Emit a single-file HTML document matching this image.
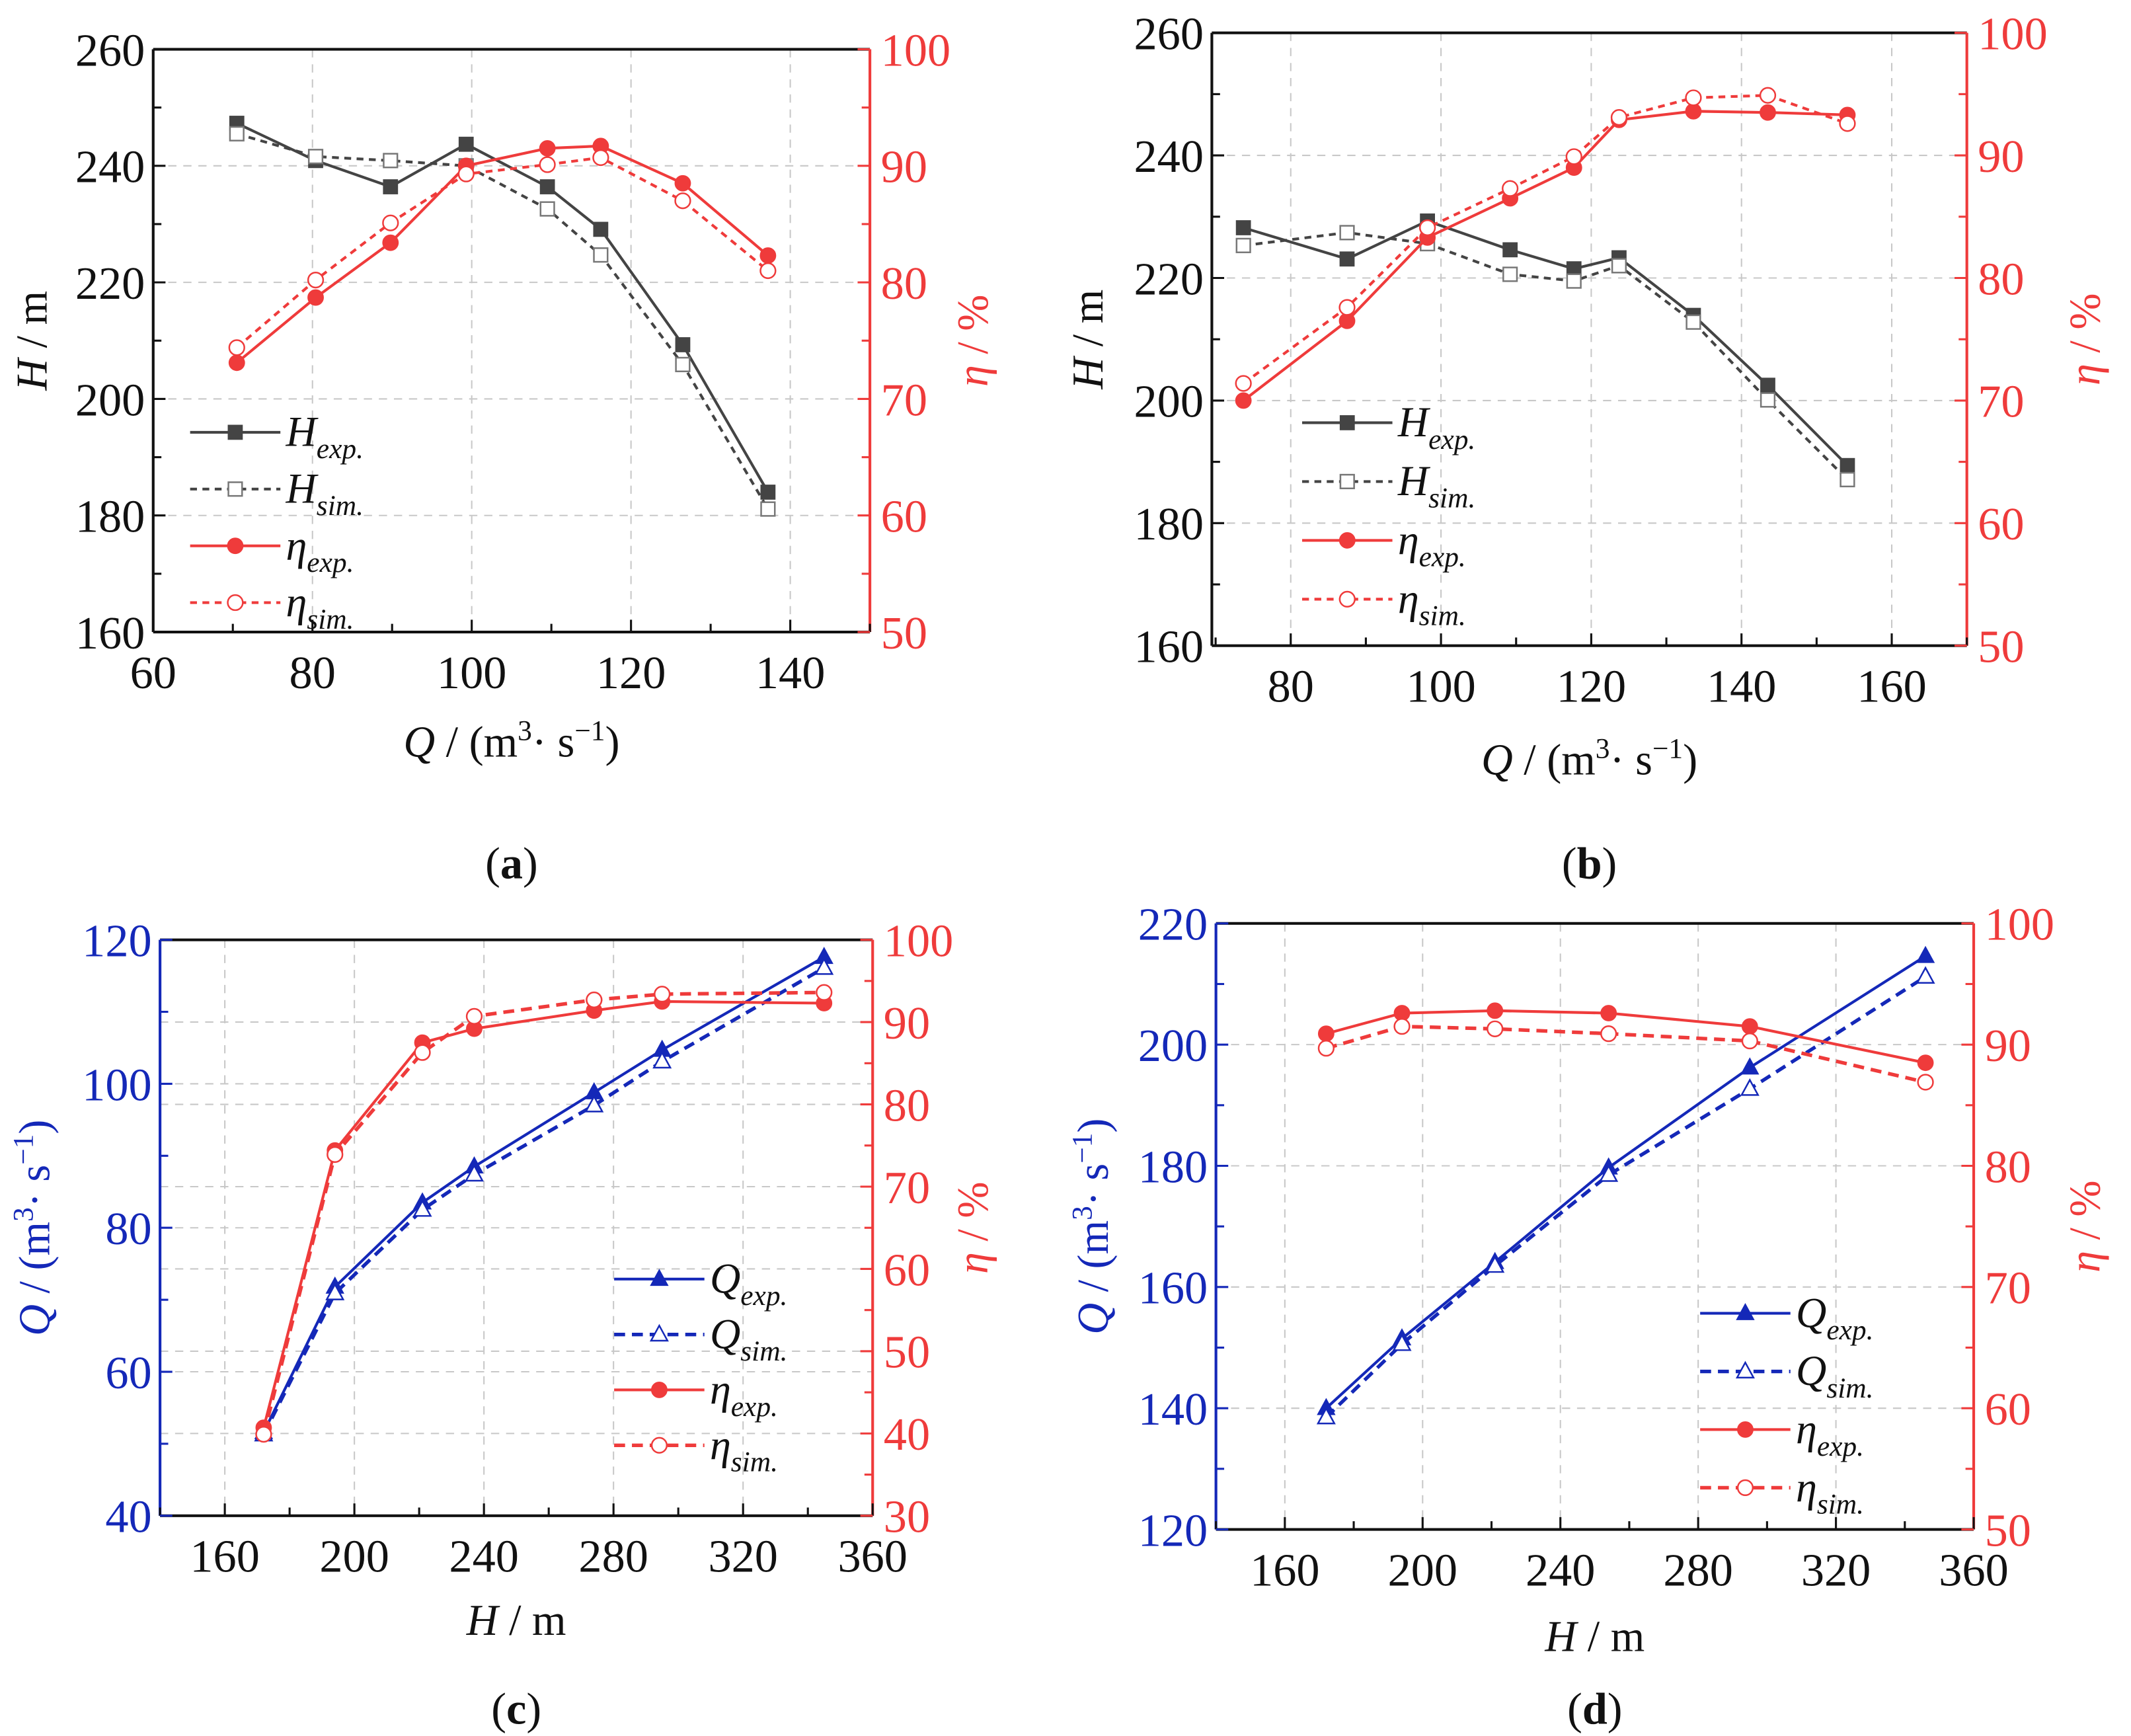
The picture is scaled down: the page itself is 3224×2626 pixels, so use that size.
<!DOCTYPE html>
<html><head><meta charset="utf-8">
<style>
html,body{margin:0;padding:0;background:#fff;}
svg{display:block;font-family:"Liberation Serif",serif;}
</style></head>
<body>
<svg id="fig" xmlns="http://www.w3.org/2000/svg" width="3224" height="2626" viewBox="0 0 1558 1269">
<rect x="0" y="0" width="1558" height="1269" fill="#fff"/>
</svg>
<script>
// ---- Panel (a) data ----
const aQ = [70.5,80.4,89.8,99.3,109.5,116.2,126.5,137.2];
const aHexp = [247.3,240.9,236.4,243.7,236.4,229.1,209.3,184.0];
const aHsim = [245.5,241.6,240.9,240.0,232.6,224.7,205.9,181.1];
const aEexp = [73.1,78.7,83.4,90.0,91.5,91.7,88.5,82.3];
const aEsim = [74.4,80.2,85.1,89.3,90.1,90.7,87.0,81.0];
const aXTicks = [60,80,100,120,140];
const aYTicks = [160,180,200,220,240,260];
const aRTicks = [50,60,70,80,90,100];
// ---- Panel (b) data ----
const bQ = [73.7,87.5,98.2,109.2,117.7,123.7,133.6,143.5,154.1];
const bHexp = [228.2,223.1,229.3,224.6,221.5,223.3,213.9,202.5,189.4];
const bHsim = [225.3,227.4,225.6,220.6,219.5,222.0,212.8,200.1,187.1];
const bEexp = [70.0,76.5,83.3,86.5,89.0,92.9,93.6,93.5,93.3];
const bEsim = [71.4,77.6,84.1,87.3,89.9,93.1,94.7,94.9,92.6];
const bXTicks = [80,100,120,140,160];
const bYTicks = [160,180,200,220,240,260];
const bRTicks = [50,60,70,80,90,100];
// ---- Panel (c) data ----
const cH = [172,194,221,237,274,295,345];
const cQexp = [51.6,71.8,83.5,88.5,98.8,104.7,117.6];
const cQsim = [51.3,70.9,82.5,87.4,97.0,103.1,116.1];
const cEexp = [40.7,74.4,87.5,89.2,91.4,92.5,92.3];
const cEsim = [39.9,73.9,86.3,90.7,92.7,93.4,93.6];
const cXTicks = [160,200,240,280,320,360];
const cYTicks = [40,60,80,100,120];
const cRTicks = [30,40,50,60,70,80,90,100];
// ---- Panel (d) data ----
const dH = [172,194,221,254,295,346];
const dQexp = [140.0,151.5,164.1,179.7,196.2,214.6];
const dQsim = [138.5,150.6,163.5,178.5,192.7,211.2];
const dEexp = [90.9,92.6,92.8,92.6,91.5,88.5];
const dEsim = [89.7,91.5,91.3,90.9,90.3,86.9];
const dXTicks = [160,200,240,280,320,360];
const dYTicks = [120,140,160,180,200,220];
const dRTicks = [50,60,70,80,90,100];

const NS = "http://www.w3.org/2000/svg";
const svg = document.getElementById('fig');
const GRAY = "#444", RED = "#ef3b3b", BLUE = "#1428b8";

function mk(tag, attrs, parent){
  const e = document.createElementNS(NS, tag);
  for (const k in attrs) e.setAttribute(k, attrs[k]);
  (parent||svg).appendChild(e);
  return e;
}

function marker(g, shape, x, y, color, filled){
  let m;
  if (shape === 'sq') m = mk('rect', {x:x-5,y:y-5,width:10,height:10}, g);
  else if (shape === 'ci') m = mk('circle', {cx:x,cy:y,r:5.5}, g);
  else m = mk('polygon', {points:`${x},${y-6.5} ${x-6},${y+4.5} ${x+6},${y+4.5}`}, g);
  m.setAttribute('fill', filled ? color : '#fff');
  m.setAttribute('stroke', color);
  m.setAttribute('stroke-width', filled ? 1 : 1.2);
  
  
  return m;
}

function panel(p){
  const g = mk('g', {});
  
  
  const X = v => p.x0 + (v - p.xd[0]) / (p.xd[1] - p.xd[0]) * (p.x1 - p.x0);
  const YL = v => p.y1 - (v - p.yl[0]) / (p.yl[1] - p.yl[0]) * (p.y1 - p.y0);
  const YR = v => p.y1 - (v - p.yr[0]) / (p.yr[1] - p.yr[0]) * (p.y1 - p.y0);
  const grid = mk('g', {stroke:'#c8c8c8','stroke-width':1,'stroke-dasharray':'6,5'}, g);
  
  
  p.xt.forEach(v => { const x = X(v); if (x > p.x0+1 && x < p.x1-1) mk('line', {x1:x,x2:x,y1:p.y0,y2:p.y1}, grid); });
  p.yt.forEach(v => { const y = YL(v); if (y > p.y0+1 && y < p.y1-1) mk('line', {x1:p.x0,x2:p.x1,y1:y,y2:y}, grid); });
  if (p.rgrid) p.rt.forEach(v => { const y = YR(v); if (y > p.y0+1 && y < p.y1-1) mk('line', {x1:p.x0,x2:p.x1,y1:y,y2:y}, grid); });
  const ax = mk('g', {'stroke-width':2}, g);
  
  
  mk('line', {x1:p.x0,x2:p.x1,y1:p.y0,y2:p.y0,stroke:'#111'}, ax);
  mk('line', {x1:p.x0,x2:p.x1,y1:p.y1,y2:p.y1,stroke:'#111'}, ax);
  mk('line', {x1:p.x0,x2:p.x0,y1:p.y0,y2:p.y1,stroke:p.lc}, ax);
  mk('line', {x1:p.x1,x2:p.x1,y1:p.y0,y2:p.y1,stroke:RED}, ax);
  const xs = p.xt[1]-p.xt[0];
  for (let v = p.xt[0]-xs; v <= p.xt[p.xt.length-1]+xs; v += xs/2){
    const x = X(v); if (x < p.x0-0.5 || x > p.x1+0.5) continue;
    const major = p.xt.some(t => Math.abs(t-v) < 1e-6);
    mk('line', {x1:x,x2:x,y1:p.y1,y2:p.y1-(major?9:6),stroke:'#111','stroke-width':1.5}, ax);
  }
  p.xt.forEach(v => {
    const t = mk('text', {x:X(v), y:p.y1+41, 'text-anchor':'middle','font-size':34, fill:'#111'}, g);
    t.textContent = v;
    
    
  });
  const ys = p.yt[1]-p.yt[0];
  for (let v = p.yt[0]; v <= p.yt[p.yt.length-1]; v += ys/2){
    const y = YL(v);
    const major = p.yt.some(t => Math.abs(t-v) < 1e-6);
    mk('line', {x1:p.x0,x2:p.x0+(major?9:6),y1:y,y2:y,stroke:p.lc,'stroke-width':1.5}, ax);
  }
  p.yt.forEach(v => {
    const t = mk('text', {x:p.x0-6, y:YL(v)+12, 'text-anchor':'end','font-size':34, fill:p.lc}, g);
    t.textContent = v;
    
    
  });
  const rs = p.rt[1]-p.rt[0];
  for (let v = p.rt[0]; v <= p.rt[p.rt.length-1]; v += rs/2){
    const y = YR(v);
    const major = p.rt.some(t => Math.abs(t-v) < 1e-6);
    mk('line', {x1:p.x1,x2:p.x1-(major?9:6),y1:y,y2:y,stroke:RED,'stroke-width':1.5}, ax);
  }
  p.rt.forEach(v => {
    const t = mk('text', {x:p.x1+8, y:YR(v)+12, 'text-anchor':'start','font-size':34, fill:RED}, g);
    t.textContent = v;
    
    
  });
  p.series.forEach(s => {
    const Y = s.axis === 'L' ? YL : YR;
    const sg = mk('g', {}, g);
    
    
    const pts = s.xs.map((v,i) => X(v).toFixed(1) + ',' + Y(s.ys[i]).toFixed(1)).join(' ');
    const pl = mk('polyline', {points:pts, fill:'none', stroke:s.color, 'stroke-width':s.w||2}, sg);
    if (s.dash) pl.setAttribute('stroke-dasharray', s.dash);
    
    
    s.xs.forEach((v,i) => marker(sg, s.shape, X(v), Y(s.ys[i]), s.mcolor||s.color, s.filled));
  });
  const lg = mk('g', {}, g);
  
  
  p.series.forEach((s,i) => {
    const y = p.leg.y + i*p.leg.dy;
    const eg = mk('g', {}, lg);
    
    
    const l = mk('line', {x1:p.leg.x, x2:p.leg.x+66, y1:y, y2:y, stroke:s.color, 'stroke-width':s.w||2}, eg);
    if (s.dash) l.setAttribute('stroke-dasharray', s.dash);
    marker(eg, s.shape, p.leg.x+33, y, s.mcolor||s.color, s.filled);
    const t = mk('text', {x:p.leg.x+70, y:y+10, 'font-size':31, 'font-style':'italic', fill:'#111'}, eg);
    t.innerHTML = s.sym + '<tspan font-size="21" dy="9">' + s.sub + '</tspan>';
  });
  const xt = mk('text', {x:(p.x0+p.x1)/2, y:p.xtY, 'text-anchor':'middle','font-size':32, fill:'#111'}, g);
  xt.innerHTML = p.xtitle;
  
  
  const cy = (p.y0+p.y1)/2;
  const yt = mk('text', {x:0, y:0, transform:`translate(${p.ltX},${cy}) rotate(-90)`, 'text-anchor':'middle','font-size':32, fill:p.lc}, g);
  yt.innerHTML = p.ytitle;
  
  
  const rtt = mk('text', {x:0, y:0, transform:`translate(${p.rtX},${cy}) rotate(-90)`, 'text-anchor':'middle','font-size':32, fill:RED}, g);
  rtt.innerHTML = '<tspan font-style="italic">η</tspan> / %';
  
  
  const cap = mk('text', {x:(p.x0+p.x1)/2, y:p.capY, 'text-anchor':'middle','font-size':33, fill:'#111'}, g);
  cap.innerHTML = '(<tspan font-weight="bold">' + p.id + '</tspan>)';
  
  
}

const QT = '<tspan font-style="italic">Q</tspan> / (m<tspan font-size="21" dy="-12">3</tspan><tspan dy="12">· s</tspan><tspan font-size="21" dy="-12">−1</tspan><tspan dy="12">)</tspan>';
const HT = '<tspan font-style="italic">H</tspan> / m';

panel({id:'a', x0:112, x1:636, y0:36, y1:462, xd:[60,150], yl:[160,260], yr:[50,100],
  xt:aXTicks, yt:aYTicks, rt:aRTicks, lc:'#111', xtitle:QT, ytitle:HT, xtY:553, ltX:34, rtX:722, capY:642,
  leg:{x:139, y:316, dy:41.5},
  series:[
    {name:'H-exp', xs:aQ, ys:aHexp, axis:'L', color:GRAY, shape:'sq', filled:true, sym:'H', sub:'exp.'},
    {name:'H-sim', xs:aQ, ys:aHsim, axis:'L', color:GRAY, shape:'sq', filled:false, dash:'5,4', mcolor:'#777', sym:'H', sub:'sim.'},
    {name:'eta-exp', xs:aQ, ys:aEexp, axis:'R', color:RED, shape:'ci', filled:true, sym:'η', sub:'exp.'},
    {name:'eta-sim', xs:aQ, ys:aEsim, axis:'R', color:RED, shape:'ci', filled:false, dash:'5,4', sym:'η', sub:'sim.'}
  ]});
panel({id:'b', x0:886, x1:1438, y0:24, y1:472, xd:[69.5,170], yl:[160,260], yr:[50,100],
  xt:bXTicks, yt:bYTicks, rt:bRTicks, lc:'#111', xtitle:QT, ytitle:HT, xtY:566, ltX:806, rtX:1535, capY:642,
  leg:{x:952, y:309, dy:43},
  series:[
    {name:'H-exp', xs:bQ, ys:bHexp, axis:'L', color:GRAY, shape:'sq', filled:true, sym:'H', sub:'exp.'},
    {name:'H-sim', xs:bQ, ys:bHsim, axis:'L', color:GRAY, shape:'sq', filled:false, dash:'5,4', mcolor:'#777', sym:'H', sub:'sim.'},
    {name:'eta-exp', xs:bQ, ys:bEexp, axis:'R', color:RED, shape:'ci', filled:true, sym:'η', sub:'exp.'},
    {name:'eta-sim', xs:bQ, ys:bEsim, axis:'R', color:RED, shape:'ci', filled:false, dash:'5,4', sym:'η', sub:'sim.'}
  ]});
panel({id:'c', x0:117, x1:638, y0:687, y1:1108, xd:[140,360], yl:[40,120], yr:[30,100], rgrid:true,
  xt:cXTicks, yt:cYTicks, rt:cRTicks, lc:BLUE, xtitle:HT, ytitle:QT, xtY:1195, ltX:36, rtX:722, capY:1260,
  leg:{x:449, y:935, dy:40.5},
  series:[
    {name:'Q-exp', xs:cH, ys:cQexp, axis:'L', color:BLUE, shape:'tr', filled:true, sym:'Q', sub:'exp.'},
    {name:'Q-sim', xs:cH, ys:cQsim, axis:'L', color:BLUE, shape:'tr', filled:false, dash:'8,5', w:2.6, sym:'Q', sub:'sim.'},
    {name:'eta-exp', xs:cH, ys:cEexp, axis:'R', color:RED, shape:'ci', filled:true, sym:'η', sub:'exp.'},
    {name:'eta-sim', xs:cH, ys:cEsim, axis:'R', color:RED, shape:'ci', filled:false, dash:'8,5', w:2.6, sym:'η', sub:'sim.'}
  ]});
panel({id:'d', x0:889, x1:1443, y0:675, y1:1118, xd:[140,360], yl:[120,220], yr:[50,100],
  xt:dXTicks, yt:dYTicks, rt:dRTicks, lc:BLUE, xtitle:HT, ytitle:QT, xtY:1207, ltX:810, rtX:1535, capY:1260,
  leg:{x:1243, y:960, dy:42.5},
  series:[
    {name:'Q-exp', xs:dH, ys:dQexp, axis:'L', color:BLUE, shape:'tr', filled:true, sym:'Q', sub:'exp.'},
    {name:'Q-sim', xs:dH, ys:dQsim, axis:'L', color:BLUE, shape:'tr', filled:false, dash:'8,5', w:2.6, sym:'Q', sub:'sim.'},
    {name:'eta-exp', xs:dH, ys:dEexp, axis:'R', color:RED, shape:'ci', filled:true, sym:'η', sub:'exp.'},
    {name:'eta-sim', xs:dH, ys:dEsim, axis:'R', color:RED, shape:'ci', filled:false, dash:'8,5', w:2.6, sym:'η', sub:'sim.'}
  ]});
</script>
</body></html>
